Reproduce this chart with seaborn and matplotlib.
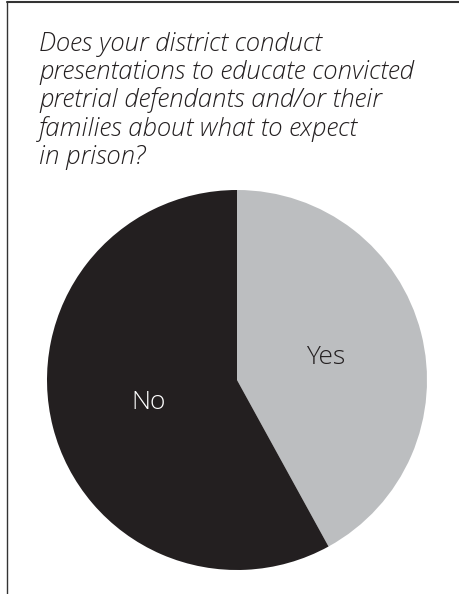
import matplotlib.pyplot as plt
import seaborn as sns
from matplotlib.lines import Line2D

sns.set_style("white")
plt.rcParams["font.family"] = ["Open Sans", "DejaVu Sans"]

#------------------------------ data ----------------------
answers = ["Yes", "No"]
shares = [42, 58]
slice_colors = ["#bcbec0", "#231f20"]
label_colors = ["#231f20", "#ffffff"]
question = ("Does your district conduct\n"
            "presentations to educate convicted\n"
            "pretrial defendants and/or their\n"
            "families about what to expect\n"
            "in prison?")

#------------------------------ figure ----------------------
fig = plt.figure(figsize=(4.59, 5.94), dpi=100)
ax = fig.add_axes([47 / 459, 24 / 594, 380 / 459, 380 / 594])

wedges, texts = ax.pie(
    shares,
    labels=answers,
    colors=slice_colors,
    startangle=90,
    counterclock=False,
    labeldistance=0.48,
    wedgeprops={"linewidth": 0},
    textprops={"fontsize": 19, "fontweight": "light"},
)
for t, c in zip(texts, label_colors):
    t.set_color(c)
    t.set_ha("center")
    t.set_va("center")
ax.set_xlim(-1, 1)
ax.set_ylim(-1, 1)
ax.set_aspect("equal")

# question text, top-left
fig.text(39 / 459, 1 - 32 / 594, question, ha="left", va="top",
         fontsize=18.5, style="italic", fontweight="light",
         color="#231f20", linespacing=1.14)

# frame lines: top and left only
fig.add_artist(Line2D([7 / 459, 1], [1 - 2 / 594, 1 - 2 / 594], color="#333333", lw=1.5))
fig.add_artist(Line2D([7 / 459, 7 / 459], [0, 1 - 2 / 594], color="#333333", lw=1.0))

fig.savefig("out.png", dpi=100)
